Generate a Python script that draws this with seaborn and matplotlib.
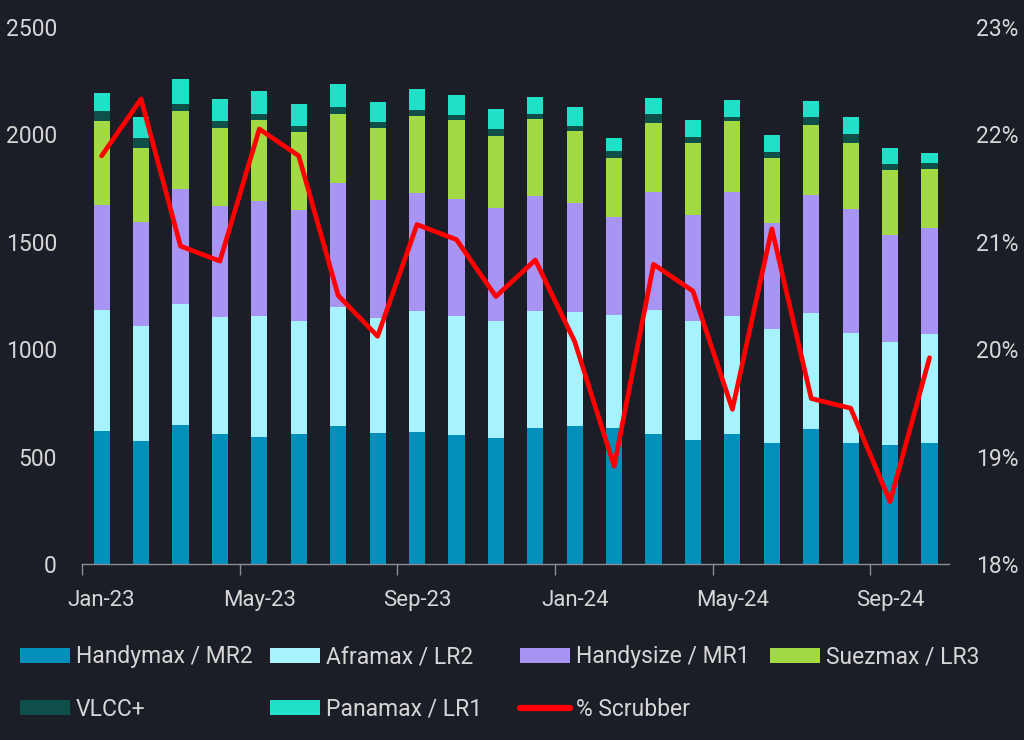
import numpy as np
import pandas as pd
import matplotlib.pyplot as plt
import seaborn as sns
from matplotlib.patches import Patch
from matplotlib.lines import Line2D
from matplotlib.ticker import FixedLocator, FuncFormatter

months = ["Jan-23", "Feb-23", "Mar-23", "Apr-23", "May-23", "Jun-23", "Jul-23", "Aug-23",
          "Sep-23", "Oct-23", "Nov-23", "Dec-23", "Jan-24", "Feb-24", "Mar-24", "Apr-24",
          "May-24", "Jun-24", "Jul-24", "Aug-24", "Sep-24", "Oct-24"]

handymax = [620, 572, 648, 603, 591, 606, 644, 610, 614, 598, 588, 633, 640, 633, 603, 575, 606, 561, 628, 563, 552, 564]
aframax = [560, 537, 563, 548, 562, 527, 550, 534, 563, 555, 542, 544, 534, 525, 580, 555, 546, 535, 539, 514, 483, 506]
handysize = [493, 485, 537, 517, 535, 515, 580, 549, 552, 548, 526, 538, 508, 457, 547, 493, 578, 490, 551, 576, 496, 492]
suezmax = [390, 343, 363, 360, 381, 361, 322, 337, 356, 368, 337, 357, 333, 275, 324, 335, 332, 304, 325, 309, 301, 276]
vlcc = [44, 45, 31, 35, 28, 32, 32, 26, 28, 21, 31, 25, 26, 33, 40, 32, 21, 28, 40, 38, 32, 28]
panamax = [88, 100, 115, 100, 104, 100, 106, 97, 98, 94, 92, 76, 87, 59, 75, 79, 77, 80, 73, 83, 73, 48]
scrubber = [21.80, 22.33, 20.96, 20.82, 22.05, 21.80, 20.50, 20.12, 21.16, 21.02, 20.49, 20.83,
            20.07, 18.91, 20.79, 20.54, 19.44, 21.12, 19.54, 19.45, 18.58, 19.92]

series = ["Handymax / MR2", "Aframax / LR2", "Handysize / MR1", "Suezmax / LR3", "VLCC+", "Panamax / LR1"]
colors = ["#0090ba", "#a6f3fd", "#a894f3", "#a3d943", "#0e5049", "#20e0c8"]

bg = "#1b1e27"
txt = "#d6d6d6"
gray = "#8a8e96"

sns.set_style("dark", {"axes.facecolor": bg, "figure.facecolor": bg})
plt.rcParams["font.family"] = ["Roboto", "DejaVu Sans"]

df = pd.DataFrame({"month": months})
for name, vals in zip(series, [handymax, aframax, handysize, suezmax, vlcc, panamax]):
    df[name] = vals
cum = df[series].cumsum(axis=1)

fig, ax = plt.subplots(figsize=(10.24, 7.40), dpi=100)
fig.subplots_adjust(left=0.080, right=0.927, bottom=0.238, top=0.9635)

# stacked bars: draw cumulative totals from the top segment down
for name, color in reversed(list(zip(series, colors))):
    sns.barplot(x=df["month"], y=cum[name], order=months, color=color, saturation=1,
                width=0.41, linewidth=0, ax=ax)

ax2 = ax.twinx()
sns.lineplot(x=np.arange(len(months)), y=scrubber, color="#ff0000", linewidth=3.4, ax=ax2)

ax.set_xlim(-0.5, len(months) - 0.5)
ax.set_ylim(0, 2500)
ax.set_yticks(range(0, 2501, 500))
ax2.set_ylim(18, 23)
ax2.set_yticks(range(18, 24))
ax2.yaxis.set_major_formatter(FuncFormatter(lambda v, p: f"{v:.0f}%"))

ax.set_xticks(range(0, len(months), 4))
ax.set_xticklabels(months[::4])
ax.xaxis.set_minor_locator(FixedLocator(np.arange(-0.5, len(months), 4)))
ax.tick_params(axis="x", which="major", length=0, pad=19, labelsize=16, colors=txt)
ax.tick_params(axis="x", which="minor", bottom=True, length=8, width=1, color=gray)
ax.tick_params(axis="y", length=0, pad=18, labelsize=16.5, colors=txt)
ax2.tick_params(axis="y", length=0, pad=19, labelsize=16.5, colors=txt)

for a in (ax, ax2):
    a.set_xlabel("")
    a.set_ylabel("")
    for s in a.spines.values():
        s.set_visible(False)
ax.spines["bottom"].set_visible(True)
ax.spines["bottom"].set_color(gray)
ax.spines["bottom"].set_linewidth(1)

handles = [Patch(facecolor=c, edgecolor="none", label=n) for n, c in zip(series, colors)]
line_h = Line2D([], [], color="#ff0000", linewidth=4.5, label="% Scrubber")
columns = [
    [handles[0], handles[4]],
    [handles[1], handles[5]],
    [handles[2], line_h],
    [handles[3]],
]
col_x = [0.0195, 0.2637, 0.5078, 0.752]
for hs, x in zip(columns, col_x):
    fig.legend(handles=hs, loc="upper left", bbox_to_anchor=(x, 0.128), frameon=False,
               fontsize=16.5, labelcolor=txt, handlelength=2.2, handleheight=0.66,
               handletextpad=0.25, labelspacing=1.28, borderpad=0, borderaxespad=0)

fig.savefig("out.png", dpi=100, facecolor=bg)
